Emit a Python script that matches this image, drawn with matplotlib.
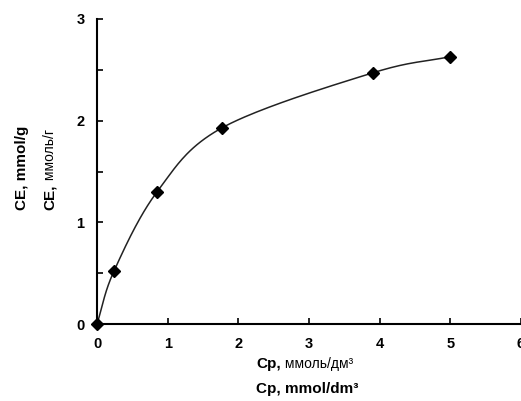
import numpy as np
import matplotlib.pyplot as plt
from matplotlib.transforms import offset_copy

# Isotherm data: equilibrium concentration vs exchange capacity
cp = [0.0, 0.24, 0.85, 1.77, 3.90, 5.00]
ce = [0.0, 0.52, 1.30, 1.93, 2.47, 2.63]
x_ticks = [0, 1, 2, 3, 4, 5, 6]
y_ticks = [0, 1, 2, 3]

plt.rcParams['font.family'] = ['Liberation Sans', 'DejaVu Sans']


def smooth(xs, ys, n=40):
    # Catmull-Rom spline through the points (scaled to similar units first)
    sx, sy = 70.8, 101.7
    p = np.column_stack([np.array(xs) * sx, np.array(ys) * sy])
    p = np.vstack([2 * p[0] - p[1], p, 2 * p[-1] - p[-2]])
    out = []
    for i in range(1, len(p) - 2):
        p0, p1, p2, p3 = p[i - 1], p[i], p[i + 1], p[i + 2]
        t = np.linspace(0, 1, n)[:, None]
        seg = 0.5 * ((2 * p1) + (-p0 + p2) * t + (2 * p0 - 5 * p1 + 4 * p2 - p3) * t ** 2
                     + (-p0 + 3 * p1 - 3 * p2 + p3) * t ** 3)
        out.append(seg)
    out = np.vstack(out)
    return out[:, 0] / sx, out[:, 1] / sy


fig = plt.figure(figsize=(5.21, 4.01), dpi=100)
ax = fig.add_axes([97 / 521, 77 / 401, 424 / 521, 305 / 401])

sx_, sy_ = smooth(cp, ce)
ax.plot(sx_, sy_, color='#222222', lw=1.1, clip_on=False)
ax.plot(cp, ce, 'D', color='black', ms=6.5, clip_on=False)

ax.set_xlim(0, 6)
ax.set_ylim(0, 3)
ax.set_xticks(x_ticks)
ax.set_yticks(y_ticks)
ax.set_yticks([0.5, 1.5, 2.5], minor=True)
for s in ['top', 'right']:
    ax.spines[s].set_visible(False)
for s in ['left', 'bottom']:
    ax.spines[s].set_linewidth(1.5)
ax.tick_params(direction='in', length=4, width=1.2, labelsize=10.5, pad=9)
ax.tick_params(which='minor', direction='in', length=4, width=1.2)
for lab in ax.get_xticklabels() + ax.get_yticklabels():
    lab.set_fontweight('bold')

bold = dict(fontsize=11, fontweight='bold')
thin = dict(fontsize=10, fontweight='normal')

fig.canvas.draw()
r = fig.canvas.get_renderer()


def pieces(x, y, parts, rot=0):
    # place text pieces one after another along the reading direction
    tr = fig.transFigure
    for txt, kw in parts:
        if rot:
            t = fig.text(x, y, txt, rotation=90, rotation_mode='anchor',
                         ha='left', va='center', transform=tr, **kw)
            h = t.get_window_extent(r).height
            tr = offset_copy(tr, fig, x=0, y=h, units='dots')
        else:
            t = fig.text(x, y, txt, ha='left', va='center', transform=tr, **kw)
            w = t.get_window_extent(r).width
            tr = offset_copy(tr, fig, x=w, y=0, units='dots')


pieces(256 / 521, 1 - 364 / 401, [('Cp,', bold), (' ммоль/дм³', thin)])
pieces(256 / 521, 1 - 389 / 401, [('Cp, mmol/dm³', bold)])
pieces(22 / 521, 1 - 210 / 401, [('CE, mmol/g', bold)], rot=True)
pieces(50 / 521, 1 - 210 / 401, [('CE,', bold), (' ммоль/г', thin)], rot=True)

fig.savefig('out.png', dpi=100)
